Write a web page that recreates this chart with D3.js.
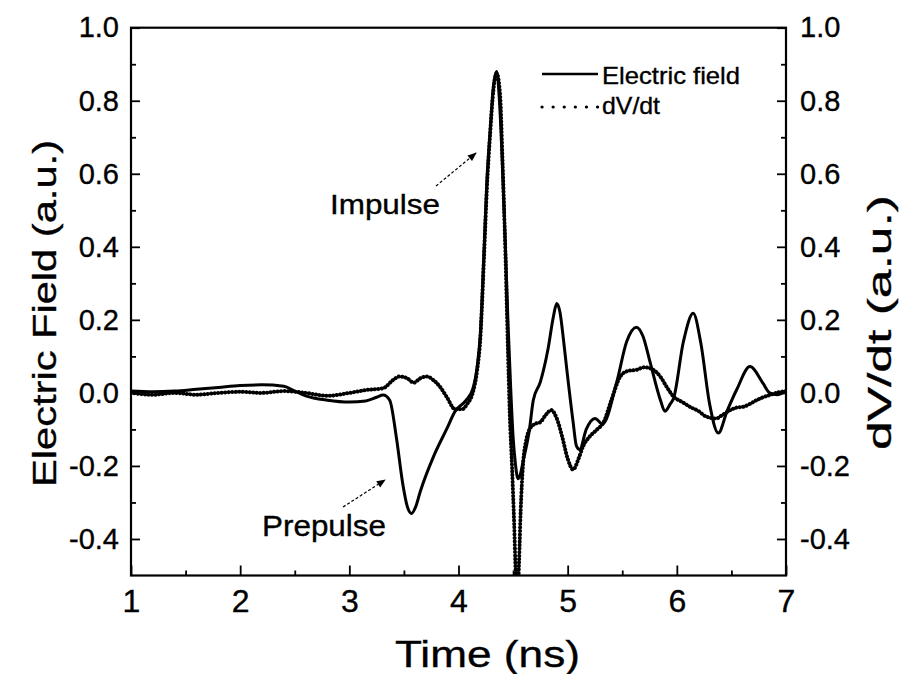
<!DOCTYPE html>
<html>
<head>
<meta charset="utf-8">
<script src="https://cdn.jsdelivr.net/npm/d3@7"></script>
<style>
  body { margin: 0; background: #fff; }
  svg { display: block; font-family: "Liberation Sans", Arial, sans-serif; }
  text { stroke: #000; stroke-width: 0.35px; }
</style>
</head>
<body>
<svg width="909" height="674"></svg>
<script>
// tick values
const xTicks = [1, 2, 3, 4, 5, 6, 7];
const xMinor = [1.5, 2.5, 3.5, 4.5, 5.5, 6.5];
const yTicks = [-0.4, -0.2, 0.0, 0.2, 0.4, 0.6, 0.8, 1.0];
const yMinor = [-0.3, -0.1, 0.1, 0.3, 0.5, 0.7, 0.9];

// Electric field (solid)
const efTime = [1.00, 1.20, 1.40, 1.60, 1.80, 2.00, 2.20, 2.40, 2.50, 2.60, 2.80, 3.00, 3.15, 3.25, 3.31,
  3.37, 3.43, 3.49, 3.53, 3.57, 3.61, 3.65, 3.77, 3.89, 3.97, 4.07, 4.13, 4.17, 4.20, 4.235, 4.26, 4.29,
  4.32, 4.35, 4.375, 4.40, 4.43, 4.455, 4.48, 4.50, 4.52, 4.545, 4.565, 4.59, 4.65, 4.685, 4.75, 4.82,
  4.87, 4.90, 4.93, 4.96, 4.99, 5.05, 5.08, 5.11, 5.17, 5.25, 5.32, 5.45, 5.54, 5.63, 5.69, 5.75, 5.85,
  5.89, 5.94, 5.97, 6.06, 6.15, 6.22, 6.30, 6.38, 6.46, 6.55, 6.67, 6.79, 6.85, 6.92, 7.00];
const efValue = [0.005, 0.003, 0.005, 0.010, 0.015, 0.020, 0.022, 0.018, 0.005, -0.008, -0.020, -0.025, -0.022, -0.012, -0.006,
  -0.020, -0.120, -0.250, -0.310, -0.330, -0.310, -0.270, -0.175, -0.100, -0.050, -0.020, 0.010, 0.070, 0.160, 0.400, 0.580, 0.720,
  0.840, 0.880, 0.800, 0.640, 0.400, 0.180, 0.000, -0.120, -0.190, -0.235, -0.225, -0.190, -0.100, -0.020, 0.030, 0.120,
  0.210, 0.245, 0.220, 0.150, 0.070, -0.080, -0.145, -0.155, -0.100, -0.070, -0.085, 0.030, 0.140, 0.180, 0.155, 0.090, -0.020,
  -0.050, -0.030, -0.015, 0.140, 0.218, 0.136, -0.030, -0.110, -0.050, 0.010, 0.072, 0.026, 0.000, -0.005, 0.005];

// dV/dt (dotted)
const dvTime = [1.00, 1.20, 1.40, 1.60, 1.80, 2.00, 2.20, 2.40, 2.60, 2.80, 3.00, 3.16, 3.31, 3.40, 3.46,
  3.53, 3.59, 3.65, 3.71, 3.77, 3.83, 3.89, 3.97, 4.03, 4.08, 4.13, 4.17, 4.20, 4.235, 4.26, 4.29, 4.32,
  4.35, 4.38, 4.405, 4.43, 4.45, 4.47, 4.49, 4.51, 4.525, 4.54, 4.555, 4.57, 4.59, 4.62, 4.65, 4.70,
  4.75, 4.80, 4.85, 4.90, 4.95, 5.00, 5.05, 5.10, 5.14, 5.20, 5.27, 5.33, 5.40, 5.48, 5.55, 5.63, 5.70,
  5.75, 5.80, 5.85, 5.91, 5.97, 6.05, 6.12, 6.20, 6.27, 6.36, 6.42, 6.49, 6.55, 6.61, 6.67, 6.73, 6.79,
  6.85, 6.91, 7.00];
const dvValue = [0.000, -0.005, 0.000, -0.005, 0.000, 0.003, 0.000, 0.005, 0.000, -0.008, 0.000, 0.008, 0.013, 0.035, 0.045,
  0.040, 0.028, 0.040, 0.045, 0.035, 0.017, -0.010, -0.045, -0.045, -0.030, 0.000, 0.060, 0.150, 0.380, 0.560, 0.710, 0.830,
  0.875, 0.820, 0.620, 0.380, 0.150, -0.060, -0.200, -0.360, -0.500, -0.560, -0.460, -0.320, -0.200, -0.130, -0.100, -0.085,
  -0.080, -0.060, -0.047, -0.070, -0.120, -0.180, -0.210, -0.180, -0.147, -0.120, -0.100, -0.080, -0.020, 0.044, 0.060, 0.063, 0.070,
  0.068, 0.060, 0.044, 0.015, -0.010, -0.025, -0.038, -0.050, -0.065, -0.070, -0.060, -0.047, -0.040, -0.038, -0.030, -0.020, -0.012,
  -0.006, 0.000, 0.005];

const svg = d3.select("svg");
const pLeft = 131, pRight = 786, pTop = 27.7, pBottom = 575.5;

const x = d3.scaleLinear().domain([1, 7]).range([pLeft, pRight]);
const y = d3.scaleLinear().domain([-0.5, 1.0]).range([pBottom, pTop]);

const defs = svg.append("defs");
defs.append("clipPath").attr("id", "plot")
  .append("rect").attr("x", pLeft).attr("y", pTop)
  .attr("width", pRight - pLeft).attr("height", pBottom - pTop);

const marker = defs.append("marker")
  .attr("id", "arrow").attr("viewBox", "0 0 10 10")
  .attr("refX", 9).attr("refY", 5)
  .attr("markerWidth", 12).attr("markerHeight", 9)
  .attr("markerUnits", "userSpaceOnUse")
  .attr("orient", "auto");
marker.append("path").attr("d", "M0,1 L10,5 L0,9 Z").attr("fill", "#000");

// axes
const fmt = d => d.toFixed(1);  // plain hyphen minus like the original

function styleAxis(g, size) {
  g.select(".domain").remove();
  g.selectAll(".tick line").attr("stroke", "#000").attr("stroke-width", 1.8);
  g.selectAll(".tick text").attr("fill", "#000").attr("font-size", size);
}

svg.append("g").attr("transform", `translate(0,${pBottom})`)
  .call(d3.axisBottom(x).tickValues(xTicks).tickSize(-10).tickPadding(14).tickFormat(d3.format("d")))
  .call(g => styleAxis(g, 32));
svg.append("g").attr("transform", `translate(0,${pBottom})`)
  .call(d3.axisBottom(x).tickValues(xMinor).tickSize(-5).tickFormat(""))
  .call(g => styleAxis(g, 0));

svg.append("g").attr("transform", `translate(${pLeft},0)`)
  .call(d3.axisLeft(y).tickValues(yTicks).tickSize(-9).tickPadding(12).tickFormat(fmt))
  .call(g => styleAxis(g, 29));
svg.append("g").attr("transform", `translate(${pLeft},0)`)
  .call(d3.axisLeft(y).tickValues(yMinor).tickSize(-5).tickFormat(""))
  .call(g => styleAxis(g, 0));

svg.append("g").attr("transform", `translate(${pRight},0)`)
  .call(d3.axisRight(y).tickValues(yTicks).tickSize(-9).tickPadding(14).tickFormat(fmt))
  .call(g => styleAxis(g, 29));
svg.append("g").attr("transform", `translate(${pRight},0)`)
  .call(d3.axisRight(y).tickValues(yMinor).tickSize(-5).tickFormat(""))
  .call(g => styleAxis(g, 0));

svg.append("rect")
  .attr("x", pLeft).attr("y", pTop)
  .attr("width", pRight - pLeft).attr("height", pBottom - pTop)
  .attr("fill", "none").attr("stroke", "#000").attr("stroke-width", 2.2);

// curves
const line = d3.line().x(d => x(d[0])).y(d => y(d[1])).curve(d3.curveMonotoneX);
const ef = d3.zip(efTime, efValue);
const dv = d3.zip(dvTime, dvValue);

const plot = svg.append("g").attr("clip-path", "url(#plot)");
plot.append("path").datum(dv)
  .attr("d", line).attr("fill", "none").attr("stroke", "#000")
  .attr("stroke-width", 4).attr("stroke-linecap", "round")
  .attr("stroke-dasharray", "0.1,3.4");
plot.append("path").datum(ef)
  .attr("d", line).attr("fill", "none").attr("stroke", "#000")
  .attr("stroke-width", 3).attr("stroke-linejoin", "round");

// legend
const legend = svg.append("g");
legend.append("line").attr("x1", 542).attr("x2", 598).attr("y1", 74).attr("y2", 74)
  .attr("stroke", "#000").attr("stroke-width", 2.6);
legend.append("line").attr("x1", 542).attr("x2", 598).attr("y1", 107).attr("y2", 107)
  .attr("stroke", "#000").attr("stroke-width", 3.2).attr("stroke-linecap", "round")
  .attr("stroke-dasharray", "0.1,11");
legend.append("text").attr("x", 602).attr("y", 84).attr("font-size", 24)
  .attr("textLength", 138).attr("lengthAdjust", "spacingAndGlyphs").text("Electric field");
legend.append("text").attr("x", 602).attr("y", 114).attr("font-size", 24)
  .attr("textLength", 58).attr("lengthAdjust", "spacingAndGlyphs").text("dV/dt");

// annotations
svg.append("text").attr("x", 330).attr("y", 214).attr("font-size", 28)
  .attr("textLength", 110).attr("lengthAdjust", "spacingAndGlyphs").text("Impulse");
svg.append("line").attr("x1", 436).attr("y1", 186).attr("x2", 476).attr("y2", 153)
  .attr("stroke", "#000").attr("stroke-width", 1.2).attr("stroke-dasharray", "3,2")
  .attr("marker-end", "url(#arrow)");

svg.append("text").attr("x", 262).attr("y", 536).attr("font-size", 30)
  .attr("textLength", 124).attr("lengthAdjust", "spacingAndGlyphs").text("Prepulse");
svg.append("line").attr("x1", 343).attr("y1", 507).attr("x2", 385).attr("y2", 480)
  .attr("stroke", "#000").attr("stroke-width", 1.2).attr("stroke-dasharray", "3,2")
  .attr("marker-end", "url(#arrow)");

// axis titles
svg.append("text").attr("x", 395).attr("y", 667).attr("font-size", 37)
  .attr("textLength", 185).attr("lengthAdjust", "spacingAndGlyphs").text("Time (ns)");
svg.append("text").attr("transform", "translate(56,487) rotate(-90)").attr("font-size", 33)
  .attr("textLength", 347).attr("lengthAdjust", "spacingAndGlyphs").text("Electric Field (a.u.)");
svg.append("text").attr("transform", "translate(891,450) rotate(-90)").attr("font-size", 33)
  .attr("textLength", 255).attr("lengthAdjust", "spacingAndGlyphs").text("dV/dt (a.u.)");
</script>
</body>
</html>
